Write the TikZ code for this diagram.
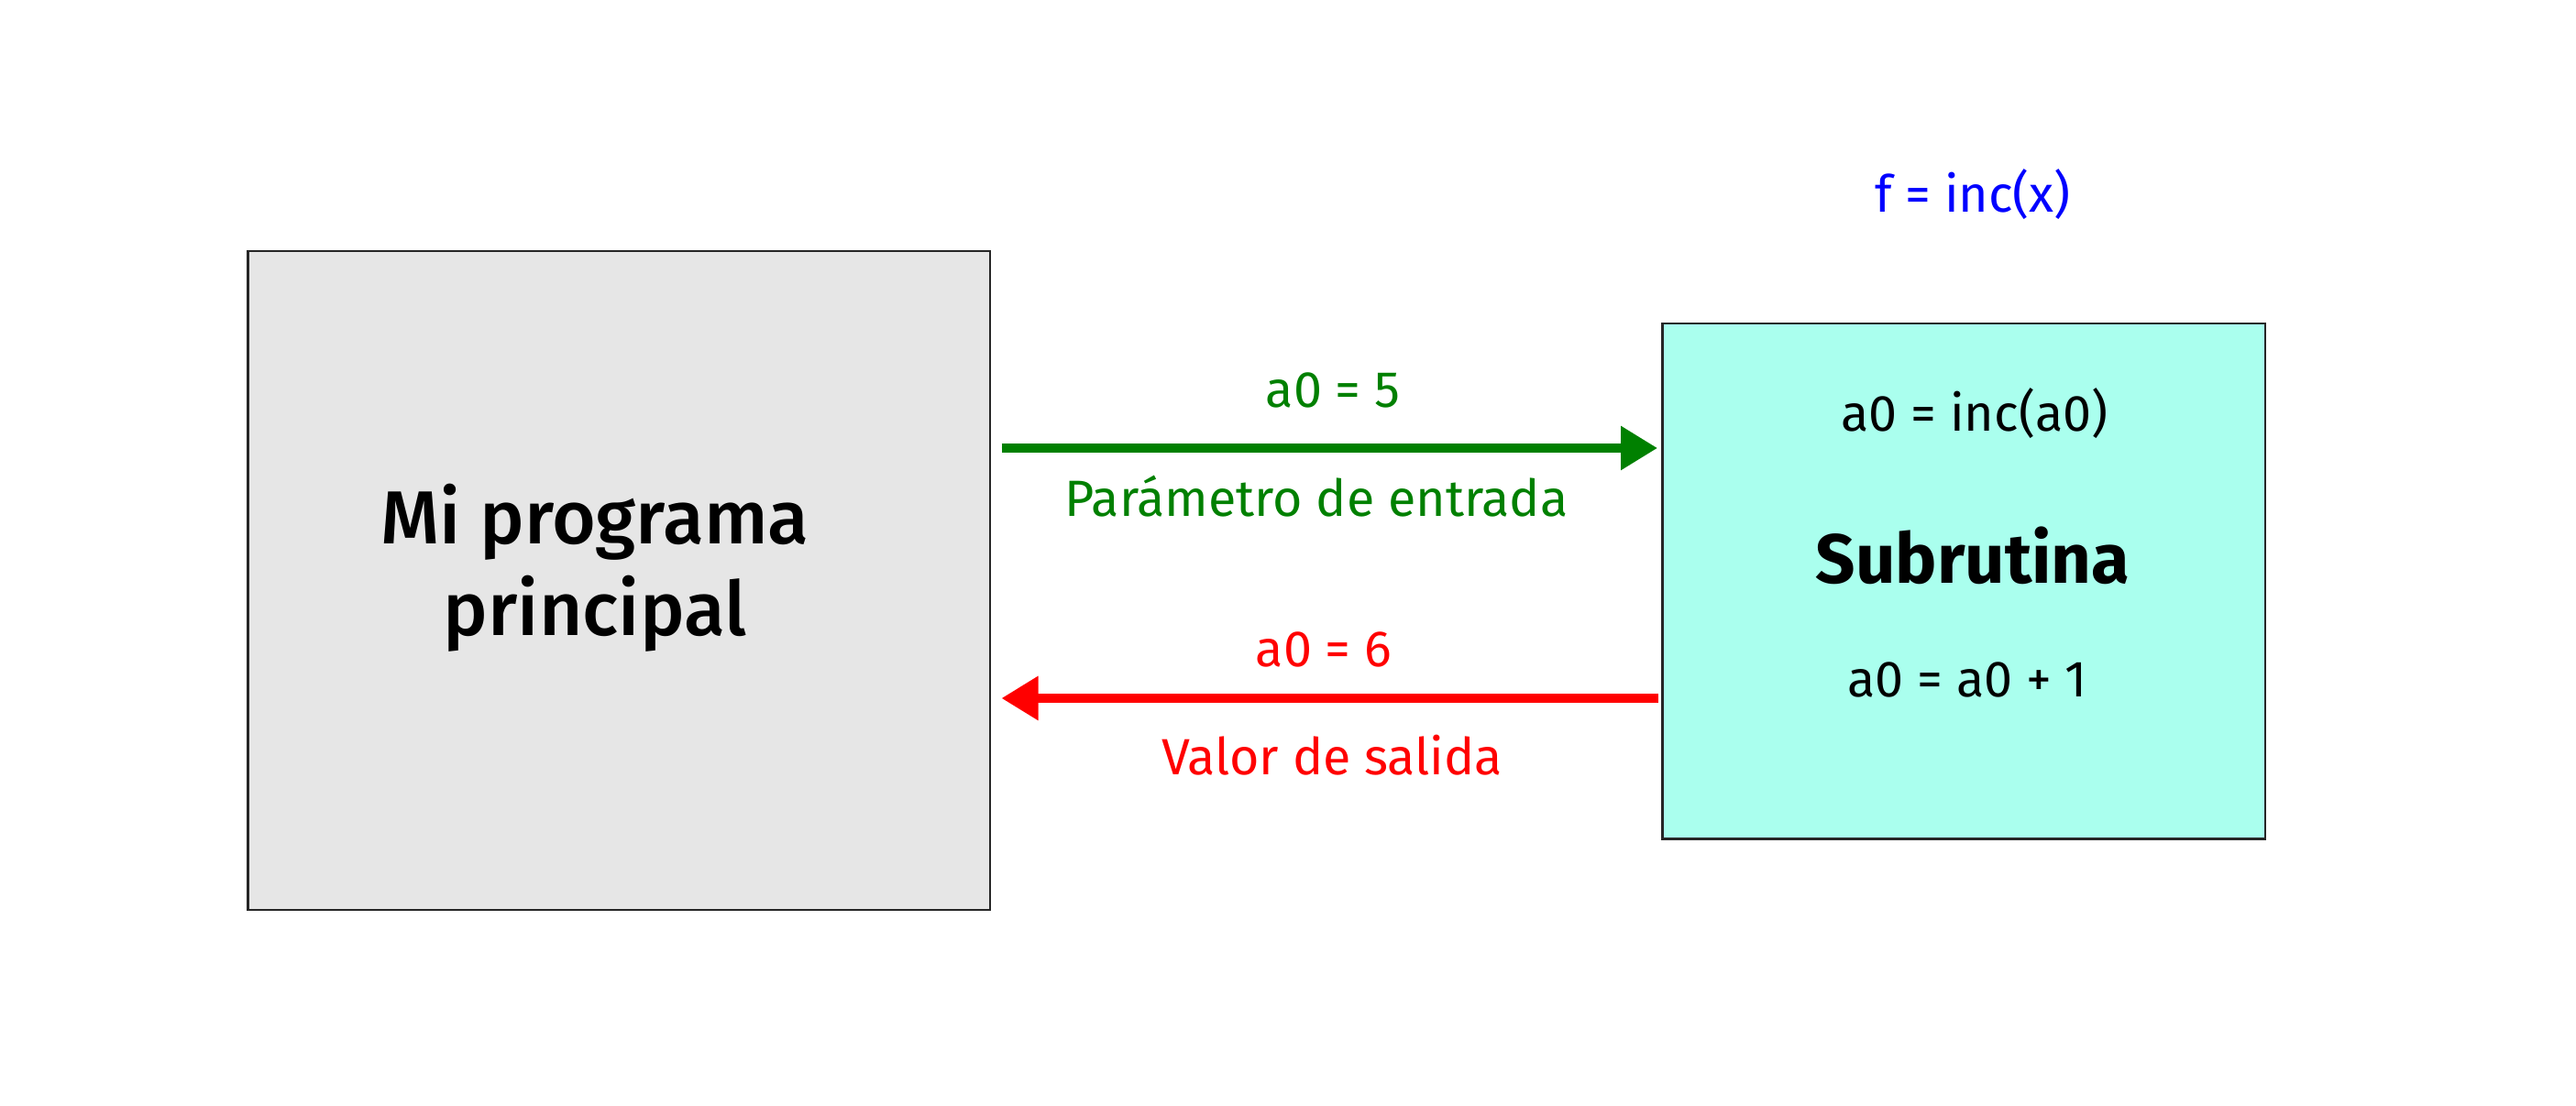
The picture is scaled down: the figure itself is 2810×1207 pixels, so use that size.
\documentclass[tikz,border=0pt]{standalone}
\usepackage{fontspec}
\setmainfont{Fira Sans}
\newfontfamily\medfont{Fira Sans Medium}
\usetikzlibrary{arrows.meta}
\definecolor{boxgray}{HTML}{E6E6E6}
\definecolor{boxcyan}{HTML}{AAFFEE}
\definecolor{ggreen}{HTML}{008000}
\definecolor{rred}{HTML}{FF0000}
\definecolor{bblue}{HTML}{0000FF}
\tikzset{
  block/.style={draw=black!85, line width=0.7pt, inner sep=0pt},
  lbl/.style={anchor=base, inner sep=0pt, font=\fontsize{13.9}{16}\selectfont},
  flow/.style={line width=2.3pt, -{Triangle[length=10pt,width=11.5pt]}},
}
\begin{document}
\begin{tikzpicture}[x=0.25pt,y=-0.25pt]
\useasboundingbox[fill=white] (0,0) rectangle (2810,1207);
% boxes
\draw[block, fill=boxgray] (270.5,274) rectangle (1080,993);
\draw[block, fill=boxcyan] (1813.5,353) rectangle (2471,915.5);
\node[anchor=base, inner sep=0pt, font=\medfont\fontsize{20.5}{25}\selectfont] (main) at (649,594) {Mi programa};
\node[anchor=base, inner sep=0pt, font=\medfont\fontsize{20.5}{25}\selectfont] (main2) at (649,694) {principal};
\node[anchor=base, inner sep=0pt, font=\fontsize{19}{23}\selectfont\bfseries] (sub) at (2152,637) {Subrutina};
\node[lbl] (inc) at (2154,471) {a0 = inc(a0)};
\node[lbl] (add) at (2146,761) {a0 = a0 + 1};
\node[lbl, text=bblue] (f) at (2152,231.5) {f = inc(x)};
% arrows
\coordinate (g1) at (1092.5,489);
\coordinate (g2) at (1808,489);
\coordinate (r1) at (1808.5,762);
\coordinate (r2) at (1092.5,762);
\draw[flow, draw=ggreen, fill=ggreen] (g1) -- (g2);
\draw[flow, draw=rred, fill=rred] (r1) -- (r2);
\node[lbl, text=ggreen] (a5) at (1454,445) {a0 = 5};
\node[lbl, text=ggreen] (pe) at (1436,564) {Parámetro de entrada};
\node[lbl, text=rred] (a6) at (1444,727.5) {a0 = 6};
\node[lbl, text=rred] (vs) at (1453,846) {Valor de salida};
\end{tikzpicture}
\end{document}
